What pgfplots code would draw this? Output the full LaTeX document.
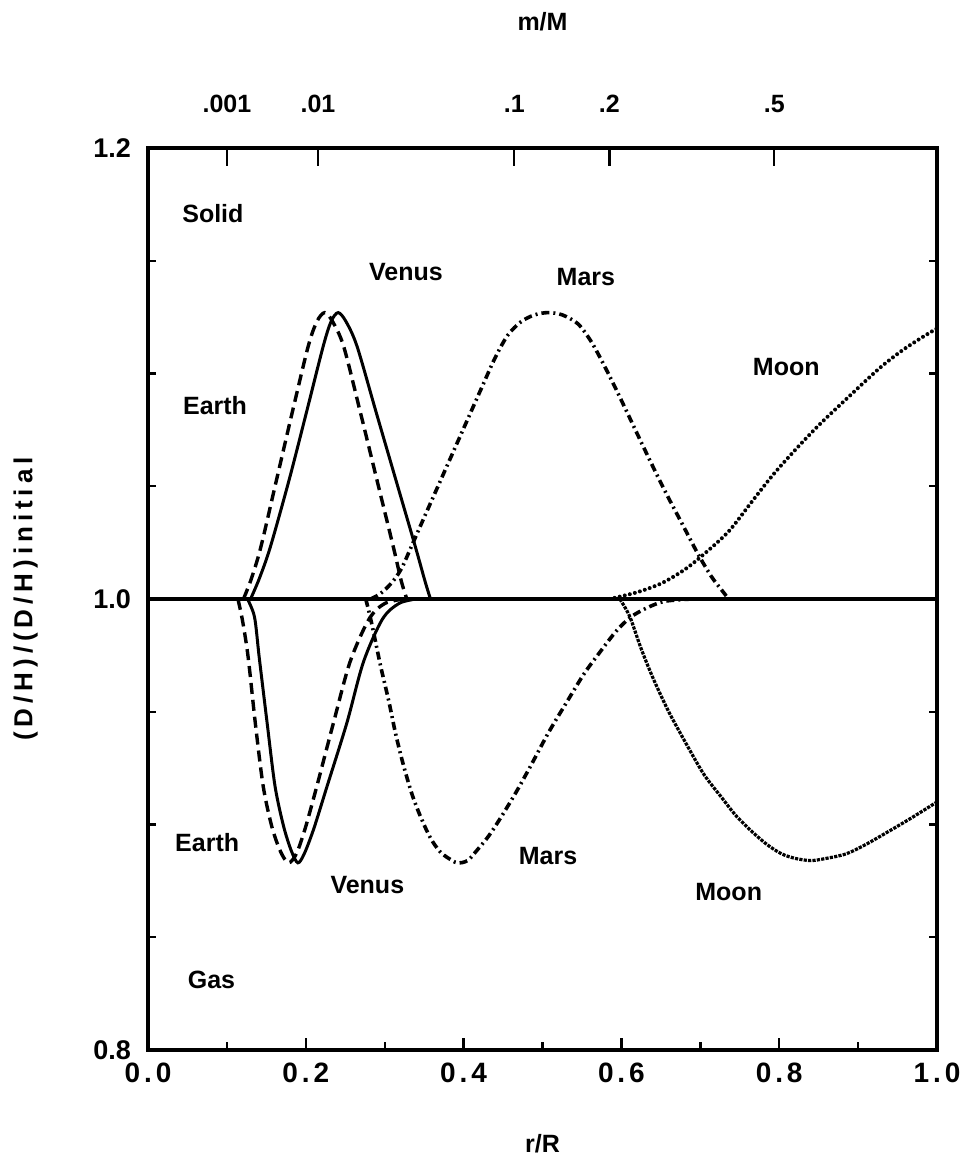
\documentclass[border=0pt]{standalone}
\usepackage{fontspec}
\setmainfont{Liberation Sans}
\newfontfamily\spacedfont[LetterSpace=14]{Liberation Sans}
\newfontfamily\widefont[LetterSpace=19]{Liberation Sans}
\usepackage{pgfplots}
\pgfplotsset{compat=1.18}

\tikzset{
  lbl/.style={font=\bfseries\fontsize{12.5pt}{12.5pt}\selectfont, inner sep=0pt},
  dashedline/.style={black, line width=1.7pt, dash pattern=on 5.5pt off 3pt},
  solidline/.style={black, line width=1.5pt},
  dashdotline/.style={black, line width=1.8pt, dash pattern=on 4pt off 2pt on 1pt off 2pt},
  dottedline/.style={black, line width=2pt, line cap=round, dash pattern=on 0pt off 2.6pt},
  finedotline/.style={black, line width=1.6pt, dash pattern=on 1.6pt off 0.6pt},
}

\begin{document}
\begin{tikzpicture}
\begin{axis}[
  name=main,
  scale only axis, width=394.5pt, height=451pt,
  xmin=0, xmax=1, ymin=0.8, ymax=1.2,
  axis line style={line width=1.7pt},
  xtick={0,0.2,0.4,0.6,0.8,1.0},
  xticklabels={0.0,0.2,0.4,0.6,0.8,1.0},
  minor xtick={0.1,0.3,0.5,0.7,0.9},
  xtick pos=bottom,
  ytick={0.8,1.0,1.2}, yticklabels={0.8,1.0,1.2},
  minor ytick={0.85,0.9,0.95,1.05,1.1,1.15},
  ytick pos=both, yticklabel pos=left,
  tick align=inside,
  major tick length=6pt, minor tick length=4pt,
  tick style={line width=1.2pt, black},
  xticklabel style={font=\spacedfont\bfseries\fontsize{14pt}{14pt}\selectfont, yshift=-3pt},
  yticklabel style={font=\bfseries\fontsize{13.5pt}{13.5pt}\selectfont, xshift=-5pt},
  xlabel={r/R},
  xlabel style={at={(axis description cs:0.5,-0.104)}, anchor=center, font=\bfseries\fontsize{12.5pt}{12.5pt}\selectfont},
  ylabel={(D/H)/(D/H)initial},
  ylabel style={at={(axis description cs:-0.155,0.5)}, anchor=center, font=\widefont\bfseries\fontsize{13pt}{13pt}\selectfont},
  clip=false,
]
% reference level
\addplot[black, line width=1.8pt] coordinates {(0,1) (1,1)};

% Earth, solid phase (dashed)
\addplot[dashedline, smooth, tension=0.5] coordinates {
 (0.121,1.000) (0.131,1.009) (0.143,1.023) (0.163,1.053) (0.183,1.083)
 (0.203,1.112) (0.214,1.123) (0.224,1.127) (0.234,1.123) (0.248,1.112)
 (0.269,1.083) (0.290,1.053) (0.311,1.023) (0.321,1.008) (0.328,1.000)};
% Venus, solid phase
\addplot[solidline, smooth, tension=0.5] coordinates {
 (0.130,1.000) (0.141,1.009) (0.155,1.023) (0.179,1.053) (0.201,1.083)
 (0.222,1.112) (0.232,1.123) (0.241,1.127) (0.251,1.123) (0.265,1.112)
 (0.289,1.083) (0.314,1.053) (0.339,1.023) (0.351,1.008) (0.358,1.000)};
% Earth, gas phase (dashed)
\addplot[dashedline, smooth, tension=0.5] coordinates {
 (0.114,1.000) (0.120,0.990) (0.127,0.974) (0.136,0.945) (0.146,0.917)
 (0.157,0.899) (0.168,0.888) (0.178,0.883) (0.188,0.887) (0.199,0.898)
 (0.214,0.917) (0.235,0.945) (0.256,0.972) (0.280,0.991) (0.300,0.998) (0.325,1.000)};
% Venus, gas phase
\addplot[solidline, smooth, tension=0.5] coordinates {
 (0.126,1.000) (0.135,0.992) (0.141,0.974) (0.151,0.945) (0.161,0.917)
 (0.172,0.899) (0.182,0.888) (0.190,0.883) (0.198,0.887) (0.210,0.898)
 (0.227,0.917) (0.252,0.945) (0.273,0.972) (0.297,0.991) (0.318,0.998) (0.340,1.000)};
% Mars, solid phase
\addplot[dashdotline, smooth, tension=0.5] coordinates {
 (0.282,1.000) (0.293,1.002) (0.303,1.005) (0.313,1.009) (0.322,1.014)
 (0.331,1.021) (0.346,1.033) (0.365,1.048) (0.384,1.063) (0.403,1.078)
 (0.422,1.093) (0.440,1.107) (0.456,1.117) (0.473,1.123) (0.490,1.126)
 (0.507,1.127) (0.525,1.126) (0.545,1.122) (0.562,1.114) (0.579,1.103)
 (0.596,1.091) (0.615,1.077) (0.634,1.063) (0.655,1.048) (0.676,1.034)
 (0.697,1.020) (0.714,1.010) (0.727,1.004) (0.736,1.000)};
% Mars, gas phase
\addplot[dashdotline, smooth, tension=0.5] coordinates {
 (0.276,1.000) (0.281,0.993) (0.286,0.985) (0.295,0.970) (0.305,0.955)
 (0.314,0.940) (0.324,0.926) (0.335,0.913) (0.346,0.903) (0.358,0.894)
 (0.370,0.888) (0.381,0.885) (0.392,0.883) (0.405,0.884) (0.418,0.889)
 (0.432,0.895) (0.447,0.903) (0.466,0.914) (0.485,0.926) (0.508,0.941)
 (0.532,0.955) (0.553,0.967) (0.574,0.977) (0.594,0.986) (0.612,0.992)
 (0.632,0.996) (0.655,0.999) (0.690,1.000)};
% Moon, solid phase
\addplot[dottedline, smooth, tension=0.5] coordinates {
 (0.585,1.000) (0.620,1.003) (0.651,1.007) (0.680,1.013) (0.705,1.020)
 (0.736,1.030) (0.765,1.043) (0.792,1.055) (0.820,1.066) (0.850,1.077)
 (0.883,1.088) (0.926,1.102) (0.955,1.110) (0.981,1.116) (1.000,1.120)};
% Moon, gas phase
\addplot[finedotline, smooth, tension=0.5] coordinates {
 (0.598,1.000) (0.605,0.996) (0.612,0.991) (0.625,0.978) (0.640,0.965)
 (0.660,0.950) (0.685,0.934) (0.705,0.922) (0.727,0.912) (0.745,0.904)
 (0.765,0.897) (0.785,0.891) (0.803,0.887) (0.820,0.885) (0.840,0.884)
 (0.860,0.885) (0.885,0.887) (0.909,0.891) (0.939,0.897) (0.968,0.903) (1.000,0.910)};

\node[lbl, anchor=west] at (axis cs:0.043,1.171) {Solid};
\node[lbl, anchor=west] at (axis cs:0.044,1.086) {Earth};
\node[lbl] at (axis cs:0.327,1.145) {Venus};
\node[lbl] at (axis cs:0.555,1.143) {Mars};
\node[lbl] at (axis cs:0.809,1.103) {Moon};
\node[lbl, anchor=west] at (axis cs:0.034,0.892) {Earth};
\node[lbl] at (axis cs:0.278,0.873) {Venus};
\node[lbl] at (axis cs:0.507,0.886) {Mars};
\node[lbl] at (axis cs:0.736,0.870) {Moon};
\node[lbl, anchor=west] at (axis cs:0.050,0.831) {Gas};
\end{axis}

% mass fraction scale along the top
\begin{axis}[
  scale only axis, width=394.5pt, height=451pt,
  xmin=0, xmax=1, ymin=0.8, ymax=1.2,
  axis x line*=top, axis y line=none,
  axis line style={line width=1.7pt},
  xtick={0.1,0.2154,0.4642,0.5848,0.7937},
  xticklabels={.001,.01,.1,.2,.5},
  tick align=inside, major tick length=9pt,
  tick style={line width=1.2pt, black},
  xticklabel style={font=\bfseries\fontsize{12.5pt}{12.5pt}\selectfont, yshift=14pt},
  xlabel={m/M},
  xlabel style={at={(axis description cs:0.5,1.14)}, anchor=center, font=\bfseries\fontsize{12.5pt}{12.5pt}\selectfont},
]
\addplot[draw=none] coordinates {(0,1) (1,1)};
\end{axis}

\pgfresetboundingbox
\path ([xshift=-74pt,yshift=-58pt]main.south west) rectangle ([xshift=17pt,yshift=74pt]main.north east);
\end{tikzpicture}
\end{document}
